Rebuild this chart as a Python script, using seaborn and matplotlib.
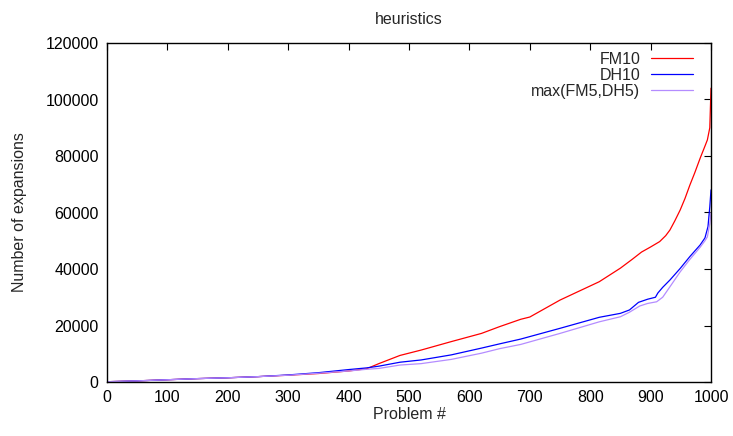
import matplotlib
matplotlib.use("Agg")
import matplotlib.pyplot as plt
import seaborn as sns
import pandas as pd

# ---- data ----
fm10_x = [0, 50, 100, 150, 200, 250, 300, 350, 400, 430, 450, 485, 520, 570, 620, 650, 685, 700, 750,
          785, 815, 850, 870, 885, 900, 915, 925, 932, 940, 949, 957, 965, 973, 982, 990, 994, 998, 1000]
fm10_y = [100, 400, 800, 1200, 1500, 1900, 2400, 3000, 3900, 4700, 6500, 9400, 11300, 14300, 17200,
          19600, 22200, 23000, 29000, 32500, 35500, 40300, 43500, 46000, 47800, 49700, 51800, 53800,
          57000, 60900, 65000, 69700, 74000, 79200, 83500, 85700, 90000, 104000]

dh10_x = [0, 50, 100, 150, 200, 250, 300, 350, 400, 430, 450, 485, 520, 570, 620, 650, 685, 750,
          815, 850, 865, 880, 895, 908, 912, 920, 932, 949, 965, 982, 990, 995, 998, 1000]
dh10_y = [100, 400, 800, 1200, 1500, 1900, 2500, 3300, 4400, 5000, 5600, 7000, 7800, 9600, 12000,
          13500, 15200, 19000, 22900, 24300, 25500, 28200, 29300, 30000, 31500, 33500, 36100, 40200,
          44400, 48500, 51000, 55000, 62000, 68000]

max_x = [0, 50, 100, 150, 200, 250, 300, 350, 400, 430, 450, 485, 520, 570, 620, 650, 685, 750,
         815, 850, 865, 882, 895, 910, 920, 932, 949, 965, 982, 990, 994, 998, 1000]
max_y = [100, 400, 800, 1200, 1500, 1900, 2400, 3100, 3900, 4500, 4800, 6000, 6500, 8000, 10200,
         11800, 13300, 17200, 21300, 23100, 24700, 26900, 27800, 28400, 30000, 33700, 39000, 43400,
         47700, 50000, 51400, 56000, 60000]

series_names = ["FM10", "DH10", "max(FM5,DH5)"]
series_colors = ["#ff0000", "#0000ff", "#b48cff"]
x_ticks = [0, 100, 200, 300, 400, 500, 600, 700, 800, 900, 1000]
y_ticks = [0, 20000, 40000, 60000, 80000, 100000, 120000]

frames = []
for name, xs, ys in zip(series_names, [fm10_x, dh10_x, max_x], [fm10_y, dh10_y, max_y]):
    frames.append(pd.DataFrame({"problem": xs, "expansions": ys, "series": name}))
df = pd.concat(frames, ignore_index=True)

sns.set_style("white")
plt.rcParams["font.family"] = ["Liberation Sans", "DejaVu Sans"]

fig = plt.figure(figsize=(7.33, 4.36), dpi=100)
ax = fig.add_axes([107 / 733, (436 - 382) / 436, (711 - 107) / 733, (382 - 43) / 436])

sns.lineplot(data=df, x="problem", y="expansions", hue="series", hue_order=series_names,
             palette=dict(zip(series_names, series_colors)), estimator=None, sort=False,
             linewidth=0.9, ax=ax)

ax.set_xlim(0, 1000)
ax.set_ylim(0, 120000)
ax.set_xticks(x_ticks)
ax.set_yticks(y_ticks)
ax.set_xticklabels([str(t) for t in x_ticks])
ax.set_yticklabels([str(t) for t in y_ticks])
ax.tick_params(direction="in", length=5, width=0.8, colors="black", labelsize=11.5,
               top=True, right=True, pad=6)
for s in ax.spines.values():
    s.set_visible(True)
    s.set_color("black")
    s.set_linewidth(1.0)

ax.set_xlabel("Problem #", fontsize=11.5, labelpad=1)
ax.set_ylabel("Number of expansions", fontsize=11.5, labelpad=13)
ax.set_title("heuristics", fontsize=11.5, pad=14)

leg = ax.legend(loc="upper right", bbox_to_anchor=(1 - 18 / 604, 1 - 9 / 339), frameon=False,
                markerfirst=False, fontsize=11.5, handlelength=2.6, handletextpad=0.7,
                labelspacing=0.05, borderaxespad=0, borderpad=0)
for line in leg.get_lines():
    line.set_linewidth(0.9)

fig.savefig("out.png", dpi=100)
